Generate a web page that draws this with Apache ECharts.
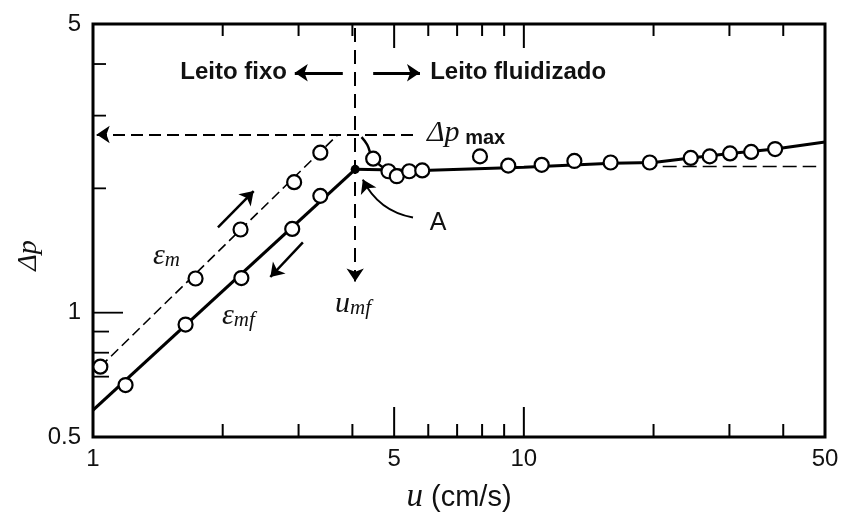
<!DOCTYPE html>
<html>
<head>
<meta charset="utf-8">
<script src="https://cdn.jsdelivr.net/npm/echarts@6/dist/echarts.min.js"></script>
<style>
  html, body { margin: 0; padding: 0; background: #fff; }
  #chart { width: 842px; height: 519px; }
</style>
</head>
<body>
<div id="chart"></div>
<script>
// Bed pressure drop Δp against superficial velocity u, log-log axes.

// ---- axes ----
const uTicksBottom = [2, 3, 4, 5, 6, 7, 8, 9, 10, 20, 30, 40];
const uTicksTop = [2, 3, 4, 5, 6, 7, 8, 9, 10, 20, 30, 40];
const uMajorTicks = [5, 10];
const uTickLabels = [1, 5, 10, 50];
const dpTicks = [0.7, 0.8, 0.9, 1, 2, 3, 4];
const dpTickLabels = [0.5, 1, 5];

// ---- fixed bed, rising velocity (voidage ε_m) ----
const looseU = [1.04, 1.73, 2.20, 2.93, 3.37];
const looseDp = [0.74, 1.21, 1.59, 2.07, 2.44];
const looseLineU = [1.04, 3.69];
const looseLineDp = [0.74, 2.69];

// ---- fixed bed, falling velocity (voidage ε_mf) ----
const settledU = [1.19, 1.64, 2.21, 2.90, 3.37];
const settledDp = [0.668, 0.936, 1.213, 1.595, 1.918];
const settledLineU = [1.0, 4.06];
const settledLineDp = [0.581, 2.224];

// ---- fluidized bed ----
const fluidU = [4.47, 4.85, 5.07, 5.42, 5.81, 7.91, 9.2, 11.0, 13.1, 15.9, 19.6, 24.4, 27.0, 30.1, 33.7, 38.3];
const fluidDp = [2.36, 2.20, 2.14, 2.20, 2.21, 2.39, 2.27, 2.28, 2.33, 2.31, 2.31, 2.37, 2.39, 2.43, 2.45, 2.49];
const humpU = [4.20, 4.33, 4.47, 4.85, 5.07, 5.42, 5.81];
const humpDp = [2.66, 2.55, 2.36, 2.20, 2.14, 2.20, 2.21];
const plateauU = [4.06, 5.81, 10, 16, 20, 24.4, 30.1, 38.3, 50];
const plateauDp = [2.224, 2.21, 2.25, 2.30, 2.31, 2.37, 2.43, 2.49, 2.59];
const plateauRefU = [21.0, 47.7];
const plateauRefDp = [2.26, 2.26];

// ---- characteristic points ----
const pointA = [4.06, 2.224];
const dpMax = 2.70;
const uMf = 4.06;

const U_MIN = 1, U_MAX = 50, DP_MIN = 0.5, DP_MAX_AXIS = 5;

const zip = (xs, ys) => xs.map((x, i) => [x, ys[i]]);

// annotation arrows (data coordinates)
const arrows = [
  { from: [5.53, dpMax], to: [1.02, dpMax], dash: [12, 6], width: 2 },
  { from: [uMf, 4.89], to: [uMf, 1.19], dash: [14, 8], width: 2 },
  { from: [3.80, 3.81], to: [2.94, 3.81], width: 3 },
  { from: [4.47, 3.81], to: [5.74, 3.81], width: 3 },
  { from: [1.95, 1.61], to: [2.36, 1.97], width: 2.5 },
  { from: [3.07, 1.48], to: [2.58, 1.22], width: 2.5 },
  { from: [5.53, 1.70], to: [4.23, 2.10], width: 2, curve: 0.25 }
];

const SERIF_IT = 'italic 30px "Liberation Serif"';
const SUB = 'italic 21px "Liberation Serif"';
const richSub = {
  e: { font: SERIF_IT, lineHeight: 30, verticalAlign: 'bottom' },
  s: { font: SUB, lineHeight: 12, verticalAlign: 'bottom' },
  m: { font: 'bold 20px "Liberation Sans"', lineHeight: 22, verticalAlign: 'bottom' }
};

// text annotations (data coordinates)
const notes = [
  { text: 'Leito fixo', at: [2.82, 3.81], align: 'right', font: 'bold 24px "Liberation Sans"' },
  { text: 'Leito fluidizado', at: [6.06, 3.81], align: 'left', font: 'bold 24px "Liberation Sans"' },
  { text: '{e|Δp}{m| max}', at: [5.96, 2.72], align: 'left', rich: true },
  { text: 'A', at: [6.32, 1.65], align: 'center', font: '25px "Liberation Sans"' },
  { text: '{e|ε}{s|m}', at: [1.378, 1.37], align: 'left', rich: true },
  { text: '{e|ε}{s|mf}', at: [1.993, 0.98], align: 'left', rich: true },
  { text: '{e|u}{s|mf}', at: [3.646, 1.05], align: 'left', rich: true }
];

function uTickSeries(values, side) {
  return {
    type: 'custom', coordinateSystem: 'cartesian2d', clip: false, silent: true, z: 6,
    data: values.map(v => [v, 1]),
    renderItem(params, api) {
      const cs = params.coordSys;
      const v = api.value(0);
      const x = api.coord([v, 1])[0];
      const major = uMajorTicks.indexOf(v) >= 0;
      const len = side === 'bottom' ? (major ? 30 : 13) : (major ? 24 : 12);
      const y0 = side === 'bottom' ? cs.y + cs.height : cs.y;
      const y1 = side === 'bottom' ? y0 - len : y0 + len;
      return { type: 'line', shape: { x1: x, y1: y0, x2: x, y2: y1 },
               style: { stroke: '#000', lineWidth: 2 } };
    }
  };
}

const dpTickSeries = {
  type: 'custom', coordinateSystem: 'cartesian2d', clip: false, silent: true, z: 6,
  data: dpTicks.map(v => [1, v]),
  renderItem(params, api) {
    const cs = params.coordSys;
    const v = api.value(1);
    const y = api.coord([1, v])[1];
    const len = v === 1 ? 30 : (v < 1 ? 16 : 13);
    return { type: 'line', shape: { x1: cs.x, y1: y, x2: cs.x + len, y2: y },
             style: { stroke: '#000', lineWidth: 1.8 } };
  }
};

const uLabelSeries = {
  type: 'custom', coordinateSystem: 'cartesian2d', clip: false, silent: true, z: 6,
  data: uTickLabels.map(v => [v, 1]),
  renderItem(params, api) {
    const cs = params.coordSys;
    const v = api.value(0);
    const x = api.coord([v, 1])[0];
    return { type: 'text', x: x, y: cs.y + cs.height + 10,
             style: { text: String(v), font: '24px "Liberation Sans"', fill: '#111',
                      align: 'center', verticalAlign: 'top' } };
  }
};

const dpLabelSeries = {
  type: 'custom', coordinateSystem: 'cartesian2d', clip: false, silent: true, z: 6,
  data: dpTickLabels.map(v => [1, v]),
  renderItem(params, api) {
    const cs = params.coordSys;
    const v = api.value(1);
    const y = api.coord([1, v])[1];
    return { type: 'text', x: cs.x - 12, y: y,
             style: { text: String(v), font: '24px "Liberation Sans"', fill: '#111',
                      align: 'right', verticalAlign: 'middle' } };
  }
};

const noteSeries = {
  type: 'custom', coordinateSystem: 'cartesian2d', clip: false, silent: true, z: 8,
  data: notes.map(n => n.at),
  renderItem(params, api) {
    const n = notes[params.dataIndex];
    const p = api.coord([api.value(0), api.value(1)]);
    const style = { text: n.text, fill: '#111', align: n.align, verticalAlign: 'middle' };
    if (n.rich) { style.rich = richSub; style.font = SERIF_IT; }
    else style.font = n.font;
    return { type: 'text', x: p[0], y: p[1], style: style };
  }
};

const circleStyle = { color: '#fff', borderColor: '#000', borderWidth: 2.2, opacity: 1 };

const option = {
  animation: false,
  backgroundColor: '#fff',
  grid: { left: 93, right: 17, top: 24, bottom: 80, show: true,
          borderColor: '#000', borderWidth: 3, backgroundColor: 'transparent' },
  xAxis: {
    type: 'log', logBase: 10, min: U_MIN, max: U_MAX,
    axisLine: { show: false }, axisTick: { show: false },
    axisLabel: { show: false }, splitLine: { show: false },
    name: '{u|u} (cm/s)', nameLocation: 'middle', nameGap: 44,
    nameTextStyle: { fontFamily: 'Liberation Sans', fontSize: 29, color: '#111',
      rich: { u: { fontFamily: 'Liberation Serif', fontStyle: 'italic', fontSize: 33, color: '#111' } } }
  },
  yAxis: {
    type: 'log', logBase: 10, min: DP_MIN, max: DP_MAX_AXIS,
    axisLine: { show: false }, axisTick: { show: false },
    axisLabel: { show: false }, splitLine: { show: false },
    name: 'Δp', nameLocation: 'middle', nameGap: 50, nameRotate: 90,
    nameTextStyle: { fontFamily: 'Liberation Serif', fontStyle: 'italic', fontSize: 28,
      color: '#111', padding: [0, 50, 0, 0] }
  },
  series: [
    uTickSeries(uTicksBottom, 'bottom'),
    uTickSeries(uTicksTop, 'top'),
    dpTickSeries, uLabelSeries, dpLabelSeries,
    {
      type: 'line', data: zip(looseLineU, looseLineDp), symbol: 'none', silent: true, z: 3,
      lineStyle: { color: '#000', width: 1.6, type: [10, 5] }
    },
    {
      type: 'line', data: zip(settledLineU, settledLineDp), symbol: 'none', silent: true, z: 3,
      lineStyle: { color: '#000', width: 3.2 }
    },
    {
      type: 'line', data: zip(plateauU, plateauDp), symbol: 'none', silent: true, z: 3,
      lineStyle: { color: '#000', width: 3 }
    },
    {
      type: 'line', data: zip(humpU, humpDp), symbol: 'none', smooth: 0.4, silent: true, z: 3,
      lineStyle: { color: '#000', width: 2.5 }
    },
    {
      type: 'line', data: zip(plateauRefU, plateauRefDp), symbol: 'none', silent: true, z: 3,
      lineStyle: { color: '#000', width: 1.6, type: [14, 6] }
    },
    {
      type: 'lines', coordinateSystem: 'cartesian2d', silent: true, z: 4,
      symbol: ['none', 'arrow'], symbolSize: 13,
      lineStyle: { color: '#000', opacity: 1 },
      data: arrows.map(a => ({
        coords: [a.from, a.to],
        lineStyle: { color: '#000', opacity: 1, width: a.width, type: a.dash || 'solid',
                     curveness: a.curve || 0 }
      }))
    },
    {
      type: 'scatter', data: zip(looseU, looseDp), symbol: 'circle', symbolSize: 14,
      itemStyle: circleStyle, silent: true, z: 7
    },
    {
      type: 'scatter', data: zip(settledU, settledDp), symbol: 'circle', symbolSize: 14,
      itemStyle: circleStyle, silent: true, z: 7
    },
    {
      type: 'scatter', data: zip(fluidU, fluidDp), symbol: 'circle', symbolSize: 14,
      itemStyle: circleStyle, silent: true, z: 7
    },
    {
      type: 'scatter', data: [pointA], symbol: 'circle', symbolSize: 9,
      itemStyle: { color: '#000', opacity: 1 }, silent: true, z: 7
    },
    noteSeries
  ]
};

const chart = echarts.init(document.getElementById('chart'), null, { renderer: 'canvas' });
chart.setOption(option);
</script>
</body>
</html>
